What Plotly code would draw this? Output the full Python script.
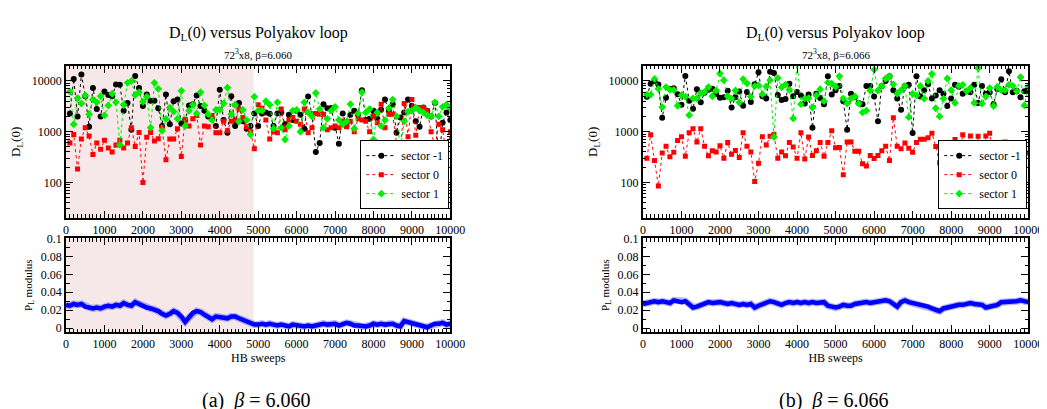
import plotly.graph_objects as go

FONT = "Liberation Serif"

# ---------------- data ----------------
sweeps = list(range(100, 10001, 100))
pl_sweeps = list(range(0, 10001, 100))

# beta = 6.060
a_sector_m1 = [2300, 11000, 2000, 13500, 5000, 1250, 7300, 2800, 2000, 6200,
               5300, 5000, 8500, 8400, 2600, 3700, 1100, 12500, 7300, 3200,
               5400, 4100, 4100, 2900, 1300, 5400, 1400, 4000, 4300, 1450,
               1700, 3300, 3500, 5200, 3200, 2600, 2000, 1800, 1300, 6700,
               1700, 950, 5000, 1300, 3700, 1600, 1150, 1300, 2300, 1300,
               2300, 2400, 2250, 1300, 2300, 2400, 1400, 2150, 1700, 2600,
               2150, 1150, 4950, 2200, 400, 600, 3500, 2900, 2950, 1200,
               580, 2300, 1300, 2150, 2600, 2150, 6600, 1700, 1800, 2600,
               1800, 2700, 4300, 2600, 3500, 960, 1900, 2400, 4300, 3200,
               1600, 1250, 3000, 2600, 2000, 3700, 250, 1500, 2400, 1700]
a_sector_0 = [600, 880, 185, 720, 1200, 820, 355, 600, 450, 680,
              480, 400, 550, 680, 480, 600, 1200, 510, 970, 100,
              780, 970, 660, 730, 1200, 280, 720, 720, 1150, 325,
              1750, 1300, 1800, 2100, 550, 1300, 1250, 2100, 950, 960,
              1600, 1050, 1600, 1700, 2800, 1900, 1250, 1000, 460, 3400,
              2900, 1700, 720, 1000, 950, 2800, 1100, 1700, 1900, 1600,
              1400, 2800, 960, 1200, 2300, 2200, 2200, 1100, 1200, 1300,
              1200, 1600, 1250, 1600, 1000, 1800, 1700, 1600, 1000, 2000,
              1500, 3500, 1200, 2200, 2200, 600, 400, 3600, 800, 4300,
              850, 3000, 3000, 2600, 1000, 500, 1400, 1100, 320, 1000]
a_sector_1 = [6200, 1400, 4600, 3600, 5200, 2200, 4300, 3800, 5000, 2100,
              3300, 5600, 3800, 550, 3400, 9200, 10000, 5300, 6000, 3900,
              4900, 1200, 9200, 7000, 1050, 1800, 3000, 2500, 1800, 6400,
              1300, 2600, 3400, 2300, 6000, 3300, 2200, 1700, 2700, 2700,
              3600, 7400, 2200, 3400, 1600, 2700, 1700, 880, 4900, 2600,
              2600, 4000, 3400, 1150, 3800, 1200, 700, 1300, 2600, 2700,
              1000, 3800, 2400, 2000, 5800, 2800, 1200, 1800, 2600, 3100,
              1700, 1400, 1600, 3500, 1150, 2300, 6000, 2400, 2800, 700,
              2400, 1300, 1700, 2900, 4300, 2000, 440, 1600, 2500, 2600,
              3000, 2600, 2400, 2100, 2000, 3800, 2000, 3100, 3400, 2900]
a_polyakov = [0.026, 0.025, 0.027, 0.026, 0.027, 0.024, 0.023, 0.022, 0.023, 0.022,
              0.024, 0.025, 0.024, 0.026, 0.025, 0.028, 0.026, 0.025, 0.029, 0.027,
              0.024, 0.023, 0.022, 0.021, 0.019, 0.016, 0.014, 0.016, 0.019, 0.017,
              0.013, 0.007, 0.012, 0.017, 0.019, 0.018, 0.015, 0.012, 0.010, 0.013,
              0.012, 0.012, 0.011, 0.013, 0.013, 0.011, 0.009, 0.007, 0.005, 0.004,
              0.004, 0.005, 0.004, 0.005, 0.004, 0.003, 0.004, 0.003, 0.002, 0.004,
              0.003, 0.003, 0.002, 0.003, 0.002, 0.003, 0.004, 0.005, 0.004, 0.004,
              0.005, 0.003, 0.004, 0.006, 0.005, 0.003, 0.003, 0.002, 0.002, 0.003,
              0.005, 0.004, 0.005, 0.004, 0.005, 0.005, 0.003, 0.002, 0.008, 0.007,
              0.005, 0.004, 0.003, 0.003, 0.001, 0.003, 0.005, 0.005, 0.006, 0.004,
              0.005]
a_thermal_end = 4880

# beta = 6.066
b_sector_m1 = [4900, 8800, 10000, 8500, 1890, 4700, 7000, 7200, 5500, 3400,
               12600, 4100, 2850, 6900, 3800, 5900, 6700, 7000, 5500, 4700,
               4800, 6400, 3000, 4800, 6200, 3250, 6100, 3860, 8600, 14800,
               5000, 4500, 15300, 14400, 5300, 4200, 4400, 8800, 5000, 6100,
               5200, 3600, 5400, 1200, 5600, 4600, 3500, 12400, 5400, 6600,
               8000, 4000, 1100, 5600, 4800, 3700, 3500, 8000, 8000, 4950,
               1600, 8000, 10000, 12400, 6600, 4500, 2700, 8000, 8400, 940,
               12400, 4950, 6600, 8600, 4500, 5200, 6600, 5600, 3200, 4500,
               8400, 7700, 5600, 6300, 6000, 8400, 3700, 8000, 5600, 6000,
               3500, 6900, 10800, 6000, 15500, 6000, 6400, 4800, 6300, 6300]
b_sector_0 = [300, 870, 270, 85, 380, 515, 320, 395, 670, 800,
              330, 950, 1150, 630, 1150, 515, 335, 420, 400, 530,
              300, 610, 360, 425, 310, 960, 515, 400, 105, 240,
              800, 545, 810, 880, 300, 400, 335, 610, 500, 300,
              950, 290, 785, 340, 420, 610, 330, 610, 1050, 485,
              490, 142, 630, 630, 410, 410, 233, 211, 340, 295,
              340, 420, 520, 270, 1890, 520, 460, 600, 470, 395,
              610, 710, 710, 760, 935, 510, 245, 425, 470, 490,
              700, 295, 870, 560, 820, 460, 810, 70, 820, 935,
              330, 510, 330, 630, 340, 395, 280, 420, 340, 380]
b_sector_1 = [5400, 5400, 11000, 7000, 3060, 7600, 6700, 6700, 3240, 5260,
              4900, 2120, 4540, 4540, 5800, 6100, 7600, 5000, 6500, 14000,
              10400, 5000, 4500, 6500, 3760, 10900, 9000, 4900, 7900, 8200,
              5500, 7800, 10400, 785, 11400, 7500, 8500, 6700, 1830, 24000,
              3500, 4500, 4600, 3000, 5200, 6900, 4000, 9300, 8900, 7700,
              12400, 4500, 3600, 4500, 4950, 3600, 2400, 2600, 6500, 16700,
              6500, 8000, 11200, 12400, 8600, 5600, 6600, 8000, 1940, 5600,
              5200, 8000, 4500, 10000, 13800, 2900, 2000, 4500, 11200, 6600,
              3700, 8000, 8400, 6300, 7300, 3700, 17900, 3600, 4950, 7250,
              3200, 7700, 6600, 6600, 8400, 8000, 6300, 11900, 3300, 7700]
b_polyakov = [0.027, 0.028, 0.030, 0.030, 0.029, 0.030, 0.029, 0.028, 0.031, 0.030,
              0.029, 0.030, 0.027, 0.023, 0.024, 0.026, 0.028, 0.029, 0.028, 0.029,
              0.029, 0.028, 0.027, 0.028, 0.027, 0.026, 0.027, 0.026, 0.027, 0.023,
              0.025, 0.027, 0.028, 0.030, 0.029, 0.027, 0.026, 0.028, 0.029, 0.028,
              0.029, 0.028, 0.029, 0.028, 0.029, 0.028, 0.029, 0.029, 0.025, 0.024,
              0.023, 0.024, 0.026, 0.025, 0.025, 0.027, 0.028, 0.028, 0.029, 0.028,
              0.029, 0.029, 0.030, 0.031, 0.030, 0.027, 0.024, 0.029, 0.031, 0.029,
              0.028, 0.028, 0.027, 0.026, 0.024, 0.022, 0.020, 0.019, 0.022, 0.023,
              0.025, 0.025, 0.026, 0.026, 0.027, 0.028, 0.027, 0.027, 0.026, 0.023,
              0.024, 0.026, 0.026, 0.029, 0.029, 0.030, 0.029, 0.030, 0.031, 0.030,
              0.029]

series_names = ["sector -1", "sector 0", "sector 1"]
series_colors = ["#000000", "#ff0000", "#00ee00"]
series_symbols = ["circle", "square", "diamond"]
series_sizes = [6, 5, 6]

panels = [
    dict(tag="a", beta="6.060", data=[a_sector_m1, a_sector_0, a_sector_1], pl=a_polyakov,
         xdom=[56 / 1047, 447 / 1047], legend="legend", shade=a_thermal_end),
    dict(tag="b", beta="6.066", data=[b_sector_m1, b_sector_0, b_sector_1], pl=b_polyakov,
         xdom=[643 / 1047, 1035 / 1047], legend="legend2", shade=None),
]

W, H = 1047, 409
top_dom = [1 - 208 / H, 1 - 52 / H]
bot_dom = [1 - 325 / H, 1 - 229 / H]

fig = go.Figure()
layout = dict(width=W, height=H, margin=dict(l=0, r=0, t=0, b=0),
              paper_bgcolor="white", plot_bgcolor="white", showlegend=True,
              font=dict(family=FONT, color="black", size=12))

tickfont = dict(family=FONT, size=12, color="black")
common = dict(ticks="inside", ticklen=7, tickwidth=1.2, tickcolor="black",
              showline=True, linewidth=2, linecolor="black", mirror="allticks",
              showgrid=False, zeroline=False, tickfont=tickfont)

annotations = []
shapes = []

for i, p in enumerate(panels):
    n_top = 2 * i + 1
    n_bot = 2 * i + 2
    xt = "x" if n_top == 1 else f"x{n_top}"
    yt = "y" if n_top == 1 else f"y{n_top}"
    xb = f"x{n_bot}"
    yb = f"y{n_bot}"

    for vals, name, col, sym, sz in zip(p["data"], series_names, series_colors,
                                        series_symbols, series_sizes):
        fig.add_trace(go.Scatter(
            x=sweeps, y=vals, name=name, mode="lines+markers",
            line=dict(color=col, width=1, dash="dot"),
            marker=dict(color=col, symbol=sym, size=sz, line=dict(width=0)),
            xaxis=xt, yaxis=yt, legend=p["legend"]))

    fig.add_trace(go.Scatter(
        x=pl_sweeps, y=p["pl"], mode="lines", showlegend=False,
        line=dict(color="rgba(110,110,255,0.5)", width=7),
        xaxis=xb, yaxis=yb))
    fig.add_trace(go.Scatter(
        x=pl_sweeps, y=p["pl"], mode="lines", showlegend=False,
        line=dict(color="#0000ff", width=4.5),
        xaxis=xb, yaxis=yb))

    xkey_t = "xaxis" if n_top == 1 else f"xaxis{n_top}"
    ykey_t = "yaxis" if n_top == 1 else f"yaxis{n_top}"
    layout[xkey_t] = dict(domain=p["xdom"], anchor=yt, range=[0, 10000],
                          tick0=0, dtick=1000, tickformat="d",
                          minor=dict(dtick=100, ticks="inside", ticklen=3.5,
                                     tickwidth=1, tickcolor="black", showgrid=False),
                          **common)
    layout[ykey_t] = dict(domain=top_dom, anchor=xt, type="log",
                          range=[1.30103, 4.30103], tick0=0, dtick=1, tickformat="d",
                          minor=dict(dtick="D1", ticks="inside", ticklen=3.5,
                                     tickwidth=1, tickcolor="black", showgrid=False),
                          title=dict(text="D<sub>L</sub>(0)", font=dict(family=FONT, size=13),
                                     standoff=8),
                          **common)
    layout[f"xaxis{n_bot}"] = dict(domain=p["xdom"], anchor=yb, range=[0, 10000],
                                   tick0=0, dtick=1000, tickformat="d",
                                   minor=dict(dtick=100, ticks="inside", ticklen=3.5,
                                              tickwidth=1, tickcolor="black", showgrid=False),
                                   title=dict(text="HB sweeps", font=dict(family=FONT, size=12),
                                              standoff=2),
                                   **common)
    layout[f"yaxis{n_bot}"] = dict(domain=bot_dom, anchor=xb, range=[-0.0043, 0.1],
                                   tick0=0, dtick=0.02,
                                   minor=dict(dtick=0.01, ticks="inside", ticklen=3.5,
                                              tickwidth=1, tickcolor="black", showgrid=False),
                                   title=dict(text="P<sub>L</sub> modulus",
                                              font=dict(family=FONT, size=11), standoff=6),
                                   **common)

    if p["shade"] is not None:
        for xr, yr in [(xt, yt), (xb, yb)]:
            shapes.append(dict(type="rect", xref=xr, yref=f"{yr} domain",
                               x0=0, x1=p["shade"], y0=0, y1=1,
                               fillcolor="rgba(215,150,150,0.22)", line=dict(width=0),
                               layer="below"))

    xc = (p["xdom"][0] + p["xdom"][1]) / 2
    annotations.append(dict(text="D<sub>L</sub>(0) versus Polyakov loop", xref="paper",
                            yref="paper", x=xc, y=1 - 19 / H, showarrow=False,
                            xanchor="center", yanchor="middle",
                            font=dict(family=FONT, size=16, color="black")))
    annotations.append(dict(text=f"72<sup>3</sup>x8, β={p['beta']}", xref="paper",
                            yref="paper", x=xc, y=1 - 40 / H, showarrow=False,
                            xanchor="center", yanchor="middle",
                            font=dict(family=FONT, size=11, color="black")))
    annotations.append(dict(text=f"({p['tag']})  <i>β</i> = {p['beta']}", xref="paper",
                            yref="paper", x=xc - 2 / W, y=1 - 395 / H, showarrow=False,
                            xanchor="center", yanchor="middle",
                            font=dict(family=FONT, size=20, color="black")))

    layout[p["legend"]] = dict(x=p["xdom"][1] - 1 / W, y=top_dom[0] + 9 / H,
                               xanchor="right", yanchor="bottom",
                               bgcolor="white", bordercolor="black", borderwidth=1,
                               font=dict(family=FONT, size=12, color="black"),
                               tracegroupgap=0, itemwidth=30)

layout["annotations"] = annotations
layout["shapes"] = shapes
fig.update_layout(**layout)
fig.write_html("out.html")
